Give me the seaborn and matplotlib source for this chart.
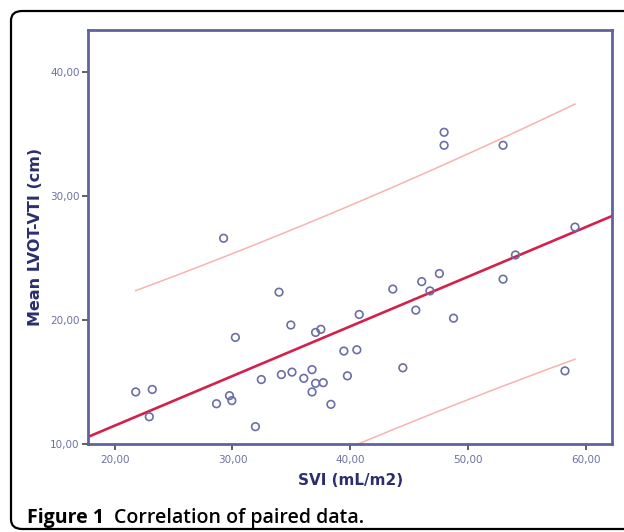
import numpy as np
import pandas as pd
import matplotlib
matplotlib.use("Agg")
import matplotlib.pyplot as plt
import seaborn as sns
from matplotlib.patches import FancyBboxPatch
from matplotlib.ticker import FuncFormatter

# SVI (mL/m2) and Mean LVOT-VTI (cm)
svi = [21.8, 23.2, 22.95, 28.65, 29.75, 29.95, 29.25, 30.25, 31.95, 32.45,
       33.95, 34.15, 34.95, 35.05, 36.05, 36.75, 36.75, 37.05, 37.7, 37.05,
       37.5, 38.35, 39.45, 39.75, 40.55, 40.75, 43.6, 44.45, 45.55, 46.05,
       46.75, 47.55, 48.75, 47.95, 47.95, 52.95, 52.95, 54.0, 59.05, 58.2]
lvot_vti = [14.2, 14.4, 12.2, 13.25, 13.9, 13.5, 26.6, 18.6, 11.4, 15.2,
            22.25, 15.6, 19.6, 15.8, 15.3, 16.0, 14.2, 14.9, 14.95, 19.0,
            19.25, 13.2, 17.5, 15.5, 17.6, 20.45, 22.5, 16.15, 20.8, 23.1,
            22.35, 23.75, 20.15, 35.15, 34.1, 34.1, 23.3, 25.25, 27.5, 15.9]

x_ticks = [20, 30, 40, 50, 60]
y_ticks = [10, 20, 30, 40]

df = pd.DataFrame({"SVI": svi, "LVOT": lvot_vti})

navy = "#2b2f6e"
frame_col = "#5f639c"
tick_col = "#6d71a3"

fig = plt.figure(figsize=(6.24, 5.32), dpi=100)
ax = fig.add_axes([0.141, 0.1654, 0.84, 0.7782])

# fit line + 95% prediction interval
x = df["SVI"].values
y = df["LVOT"].values
n = len(x)
slope, icpt = np.polyfit(x, y, 1)
resid = y - (icpt + slope * x)
s = np.sqrt(np.sum(resid ** 2) / (n - 2))
sxx = np.sum((x - x.mean()) ** 2)
t_crit = 2.024  # t(0.975, df=38)

xlim = (17.75, 62.2)
ylim = (10, 43.4)

xf = np.array(xlim)
ax.plot(xf, icpt + slope * xf, color="#d3214b", lw=1.9, zorder=2)

xp = np.linspace(x.min(), x.max(), 100)
half = t_crit * s * np.sqrt(1 + 1 / n + (xp - x.mean()) ** 2 / sxx)
yp = icpt + slope * xp
ax.plot(xp, yp + half, color="#f7b3b0", lw=1.1, zorder=1)
ax.plot(xp, yp - half, color="#f7b3b0", lw=1.1, zorder=1)

sns.scatterplot(data=df, x="SVI", y="LVOT", ax=ax, marker="o",
                facecolor="none", edgecolor="#6b6fa5", linewidth=1.2,
                s=30, zorder=3)

ax.set_xlim(*xlim)
ax.set_ylim(*ylim)
ax.set_xticks(x_ticks)
ax.set_yticks(y_ticks)
fmt = FuncFormatter(lambda v, p: f"{v:.2f}".replace(".", ","))
ax.xaxis.set_major_formatter(fmt)
ax.yaxis.set_major_formatter(fmt)
ax.tick_params(axis="both", labelsize=7.5, labelcolor=tick_col, color="#444444",
               length=4, width=1.2, pad=2)
ax.tick_params(axis="x", pad=4)
for sp in ax.spines.values():
    sp.set_color(frame_col)
    sp.set_linewidth(2)

ax.set_xlabel("SVI (mL/m2)", fontsize=11, fontweight="bold", color=navy, labelpad=6)
ax.set_ylabel("Mean LVOT-VTI (cm)", fontsize=11.5, fontweight="bold", color=navy, labelpad=5)

# rounded frame and caption
box = FancyBboxPatch((11 / 624, 3 / 532), 700 / 624, 518 / 532,
                     boxstyle="round,pad=0,rounding_size=0.018",
                     transform=fig.transFigure, fill=False,
                     edgecolor="black", linewidth=1.6, clip_on=False)
fig.patches.append(box)

fig.text(27 / 624, 1 - 523 / 532, "Figure 1", fontsize=14, fontweight="bold",
         family=["Open Sans", "DejaVu Sans"], va="baseline")
fig.text(114 / 624, 1 - 523 / 532, "Correlation of paired data.", fontsize=14,
         fontweight="semibold", family=["Open Sans", "DejaVu Sans"], va="baseline")

fig.savefig("out.png", dpi=100)
